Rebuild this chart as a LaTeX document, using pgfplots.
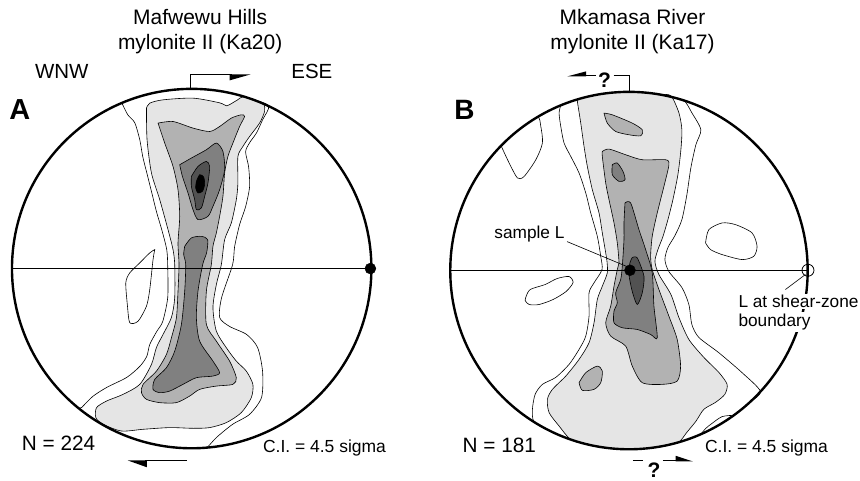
\documentclass[border=0pt]{standalone}
\usepackage{fontspec}
\setmainfont{Liberation Sans}
\usepackage{pgfplots}
\pgfplotsset{compat=1.18}
\definecolor{gA}{gray}{0.90}
\definecolor{gB}{gray}{0.70}
\definecolor{gC}{gray}{0.50}
\definecolor{gD}{gray}{0.32}
\begin{document}
\begin{tikzpicture}
\begin{axis}[width=860pt,height=481pt,scale only axis,xmin=0,xmax=860,ymin=0,ymax=481,
  y dir=reverse,hide axis,clip=false,
  cont/.style={draw=black,line width=0.6pt,fill=#1,mark=none,smooth,tension=0.45}]
\path (axis cs:0,0) rectangle (axis cs:860,481);
% ================= A =================
\addplot[cont=white] coordinates {(122,103)(128,115)(135,123)(140,140)(143,157)(147,173)(152,193)(157,213)(162,230)(167,250)(168,267)(168,298)(163,322)(157,332)(150,345)(147,357)(140,367)(127,378)(107,388)(93,397)(82,408)(80,410)(100,423.7)(120,434)(140,441.3)(160,446.1)(180,448.6)(200,448.8)(207,448.4)(217,438)(233,425)(250,415)(262,398)(263,372)(258,348)(247,335)(230,327)(220,318)(222,298)(233,265)(235,247)(240,225)(246,207)(250,187)(249,167)(246,152)(250,143)(257,133)(263,120)(269,106)(250,98.6)(220,91.2)(192,89)(160,91.9)(140,96.7)(122,103)} -- cycle;
\addplot[cont=white] coordinates {(155,250)(153.3,260)(150,290)(146.7,306.7)(138.3,321.7)(130,323.3)(127.7,306.7)(126,283.3)(130,273.3)(140,263.3)(150,253.3)(155,250)} -- cycle;
\addplot[cont=gA] coordinates {(146.7,108.3)(150,103.3)(163.3,100)(193.3,98.3)(220,103)(227,106)(233,103)(238,100)(244,96.7)(255,100.4)(264,104)(265,111.7)(260,123.3)(250,136.7)(243.3,146.7)(238.3,156.7)(238.3,183.3)(236.7,200)(231.7,223.3)(225,240)(221.7,265)(216.7,285)(213.3,308)(216.7,331.7)(226.7,348.3)(236.7,361.7)(246.7,371.7)(253.3,385)(251.7,398.3)(241.7,413.3)(226.7,423.3)(210,428.3)(193.3,429)(170,428.3)(143.3,430)(121.7,431.7)(103.3,425)(96,418.3)(96.7,408.3)(106.7,401.7)(123.3,395)(140,385)(151.7,365)(156.7,348)(163.3,335)(171.7,318)(175,298)(175,265)(173.3,250)(168.3,230)(160,200)(151.7,173.3)(147.3,140)(146.7,108.3)} -- cycle;
\addplot[cont=gB] coordinates {(158.3,123.3)(173.3,121.7)(193.3,128.3)(210,131.7)(220,126.7)(231.7,118.3)(241.7,115)(245,116.7)(240,126.7)(233.3,143.3)(228.3,156.7)(225,173.3)(223.3,196.7)(220,216.7)(216.7,233.3)(213.3,246.7)(211.7,265)(206.7,291.7)(206.7,325)(216.7,341.7)(230,361.7)(236.7,378.3)(233.3,385)(216.7,386.7)(200,390)(190,396.7)(176.7,403.3)(160,403.3)(146.7,400)(141.7,393.3)(143.3,385)(156.7,371.7)(166.7,355)(171.7,338.3)(176.7,318.3)(178.3,291.7)(179.3,265)(178.3,243.3)(180,216.7)(178.3,190)(173.3,166.7)(165,143.3)(158.3,123.3)} -- cycle;
\addplot[cont=gC] coordinates {(180,165)(191.7,158.3)(206.7,150)(216.7,143.3)(223.3,151.7)(225,170)(220,190)(213.3,206.7)(208.3,216.7)(198.3,220)(193.3,210)(188.3,193.3)(182.7,176.7)(180,165)} -- cycle;
\addplot[cont=gC] coordinates {(185,246.7)(191.7,238.3)(201.7,236.7)(208,240)(207,253)(203,265)(198.3,291.7)(196.7,318.3)(200,341.7)(213.3,361.7)(220,373.3)(213.3,376.7)(196.7,378.3)(183.3,385)(170,391.7)(160,393.3)(153.3,390)(155,380)(166.7,368.3)(175,351.7)(181.7,325)(185,291.7)(186,265)(184,255)(185,246.7)} -- cycle;
\addplot[cont=gD] coordinates {(191.7,176.7)(198.3,166.7)(206.7,161.7)(210,166.7)(208.3,183.3)(205,196.7)(201.7,208.3)(196.7,210)(195,200)(191.7,186.7)(191.7,176.7)} -- cycle;
\addplot[cont=black] coordinates {(196.7,181.7)(200,175)(204,177.3)(205,185)(202.7,191.7)(198.3,193.3)(196,188.3)(196.7,181.7)} -- cycle;
\addplot[black,line width=0.8pt,mark=none] coordinates {(12,269)(372,269)};
\draw[line width=2.4pt] (axis cs:192,269) circle[radius=180];
\addplot[only marks,mark=*,mark size=5.5pt,black] coordinates {(371,269)};
% arrows A
\draw[line width=1pt] (axis cs:191,89) -- (axis cs:191,75) -- (axis cs:232,75);
\fill (axis cs:230,74.5) -- (axis cs:251,74.5) -- (axis cs:230,80.5) -- cycle;
\draw[line width=1pt] (axis cs:145,461.7) -- (axis cs:187,461.7);
\fill (axis cs:128,461.2) -- (axis cs:147,461.2) -- (axis cs:147,468) -- cycle;
% texts A
\node[anchor=base,inner sep=0,font=\fontsize{21}{25}\selectfont] at (axis cs:200.5,25) {Mafwewu Hills};
\node[anchor=base,inner sep=0,font=\fontsize{21}{25}\selectfont] at (axis cs:200.5,50) {mylonite II (Ka20)};
\node[anchor=base west,inner sep=0,font=\fontsize{20.5}{24}\selectfont] at (axis cs:35,78.3) {WNW};
\node[anchor=base west,inner sep=0,font=\fontsize{20.5}{24}\selectfont] at (axis cs:291.7,78.3) {ESE};
\node[anchor=base west,inner sep=0,font=\fontsize{29}{32}\selectfont\bfseries] at (axis cs:9.3,120) {A};
\node[anchor=base west,inner sep=0,font=\fontsize{20.8}{24}\selectfont] at (axis cs:21.7,451.7) {N = 224};
\node[anchor=base west,inner sep=0,font=\fontsize{17.5}{21}\selectfont] at (axis cs:263.3,453.3) {C.I. = 4.5 sigma};
% ================= B =================
\addplot[cont=white] coordinates {(561.7,105.5)(560,113.3)(561.7,126.7)(565,143.3)(571.7,156.7)(580,173.3)(586.7,193.3)(591.7,213.3)(598.3,236.7)(601.7,256.7)(603,270)(595,283.3)(590,293.3)(590,316.7)(586.7,336.7)(580,350)(570,365)(556.7,378)(543.3,385)(536,395)(533.3,410)(535,422.7)(550,431.1)(570,439.6)(590,445.5)(610,448.9)(630,450)(650,448.9)(670,445.5)(690,439.6)(710,431.1)(730,419.5)(750,403.8)(761.7,392.2)(743.3,373.3)(720,353.3)(700,338)(693,325)(690,305)(683,288)(670,272)(666,260)(669,248)(676,236)(683,220)(688,195)(692,168)(697,145)(702,130)(693,113)(685,100.7)(670,96.5)(650,93.1)(630,92)(610,93.1)(590,96.5)(575,100.7)(561.7,105.5)} -- cycle;
\addplot[cont=white] coordinates {(502,146.2)(510,163.3)(518.3,178.3)(525,176.7)(536.7,160)(543.3,143.3)(541.7,126.7)(538.3,117.3)(520,129.8)(510,138.2)(502,146.2)} -- cycle;
\addplot[cont=white] coordinates {(706.7,243.3)(710,230)(723.3,223.3)(736.7,225)(753.3,233.3)(758.3,246.7)(755,256.7)(743.3,260)(723.3,255)(711.7,250)(706.7,243.3)} -- cycle;
\addplot[cont=white] coordinates {(527,297)(531,290)(546,285)(558,279)(570,277)(574,283)(567,292)(554,300)(540,305)(530,305)(526,301)(527,297)} -- cycle;
\addplot[black,line width=0.6pt,mark=none,smooth] coordinates {(702,435)(707,429)(713.3,424)(723.3,417.3)(735,416)};
\addplot[cont=gA] coordinates {(578,99.7)(580,99.1)(600,94.5)(620,92.3)(640,92.3)(660,94.5)(672,96)(680,113)(683,130)(682,150)(679,175)(674,200)(669,220)(664,237)(659,250)(656,262)(660,275)(672,295)(680,318)(690,340)(705,358)(720,373)(728.3,385)(726,395)(716.7,403)(705,410)(697,422)(688,433)(680,443)(670,445.5)(650,448.9)(630,450)(610,448.9)(590,445.5)(572,440.5)(560,426.7)(550,413.3)(548.3,400)(553.3,390)(566.7,376.7)(580,360)(590,343.3)(595,323.3)(598.3,300)(603.3,286.7)(608.3,273.3)(608,262)(606.7,253.3)(603.3,233.3)(600,213.3)(593.3,190)(588.3,166.7)(585,146.7)(581.7,123.3)(578.3,101.7)(578,99.7)} -- cycle;
\addplot[cont=gB] coordinates {(603.3,151.7)(610,149.3)(626.7,155)(643.3,160)(666.7,160)(670,165)(665,186.7)(658.3,213.3)(653.3,236.7)(651.7,256.7)(653.3,270)(660,290)(670,316.7)(678.3,340)(681.7,366.7)(678.3,381.7)(663.3,385)(643.3,383.3)(633.3,366.7)(626.7,346.7)(611.7,336.7)(606.7,323.3)(611.7,306.7)(615,286.7)(618.3,270)(620,263.3)(618.3,243.3)(615,223.3)(610,200)(606.7,183.3)(603.3,156.7)(603.3,151.7)} -- cycle;
\addplot[cont=gB] coordinates {(605,113.3)(613.3,115)(633.3,123.3)(643.3,130)(641.7,136)(630,135)(616.7,131.7)(608.3,123.3)(605,113.3)} -- cycle;
\addplot[cont=gB] coordinates {(580,383.3)(586.7,373.3)(598.3,366.7)(603.3,371.7)(601.7,383.3)(595,390)(583.3,391)(580,383.3)} -- cycle;
\addplot[cont=gC] coordinates {(613.3,165)(618.3,163.3)(624,171.7)(626,180)(620,181.7)(613.3,175)(613.3,165)} -- cycle;
\addplot[cont=gC] coordinates {(626,203.3)(631.7,203.3)(640,230)(646.7,250)(653.3,273.3)(655,306.7)(658.3,338.3)(651.7,335)(638.3,330)(623.3,328.3)(615,323.3)(615,311.7)(618.3,303.3)(616.7,293.3)(621.7,280)(623.3,266.7)(625,240)(625,223.3)(626,203.3)} -- cycle;
\addplot[cont=gD] coordinates {(633.3,258)(638.3,258.3)(645,276.7)(643.3,293.3)(638.3,305)(633.3,292)(630,275)(631,263)(633.3,258)} -- cycle;
\addplot[black,line width=0.8pt,mark=none] coordinates {(451,271)(809,271)};
\draw[line width=2.4pt] (axis cs:630,271) circle[radius=179];
\addplot[only marks,mark=*,mark size=5.5pt,black] coordinates {(631,270.7)};
\addplot[only marks,mark=o,mark size=6pt,black,line width=0.8pt,mark options={fill=white}] coordinates {(809.3,270.7)};
\addplot[black,line width=0.6pt,mark=none] coordinates {(568,242)(628,267)};
\addplot[black,line width=0.6pt,mark=none] coordinates {(806.7,275)(786.7,290)};
% arrows B
\fill (axis cs:568.3,76.5) -- (axis cs:587,76.5) -- (axis cs:587,71.5) -- cycle;
\draw[line width=1pt] (axis cs:586,76) -- (axis cs:597,76);
\draw[line width=1pt] (axis cs:614.5,76) -- (axis cs:631,76) -- (axis cs:631,91);
\node[anchor=base,inner sep=0,font=\fontsize{21}{24}\selectfont\bfseries] at (axis cs:605.5,87.5) {?};
\draw[line width=1pt] (axis cs:634,461.7) -- (axis cs:644,461.7);
\node[anchor=base,inner sep=0,font=\fontsize{21}{24}\selectfont\bfseries] at (axis cs:655,478) {?};
\draw[line width=1pt] (axis cs:664,461.7) -- (axis cs:680,461.7);
\fill (axis cs:676.7,456.5) -- (axis cs:694,462.2) -- (axis cs:676.7,462.2) -- cycle;
% texts B
\node[anchor=base,inner sep=0,font=\fontsize{21}{25}\selectfont] at (axis cs:633.5,25) {Mkamasa River};
\node[anchor=base,inner sep=0,font=\fontsize{21}{25}\selectfont] at (axis cs:633.5,50) {mylonite II (Ka17)};
\node[anchor=base west,inner sep=0,font=\fontsize{28}{32}\selectfont\bfseries] at (axis cs:455,120) {B};
\node[anchor=base west,inner sep=0,font=\fontsize{20.8}{24}\selectfont] at (axis cs:463.3,453) {N = 181};
\node[anchor=base west,inner sep=0,font=\fontsize{17.5}{21}\selectfont] at (axis cs:706,453.3) {C.I. = 4.5 sigma};
\node[anchor=base west,inner sep=0,font=\fontsize{17.3}{21}\selectfont] at (axis cs:495,239) {sample L};
\node[anchor=base west,inner sep=1.5pt,fill=white,font=\fontsize{17.3}{21}\selectfont] at (axis cs:738,308.3) {L at shear-zone};
\node[anchor=base west,inner sep=1.5pt,fill=white,font=\fontsize{17.3}{21}\selectfont] at (axis cs:738,327) {boundary};
\end{axis}
\end{tikzpicture}
\end{document}
